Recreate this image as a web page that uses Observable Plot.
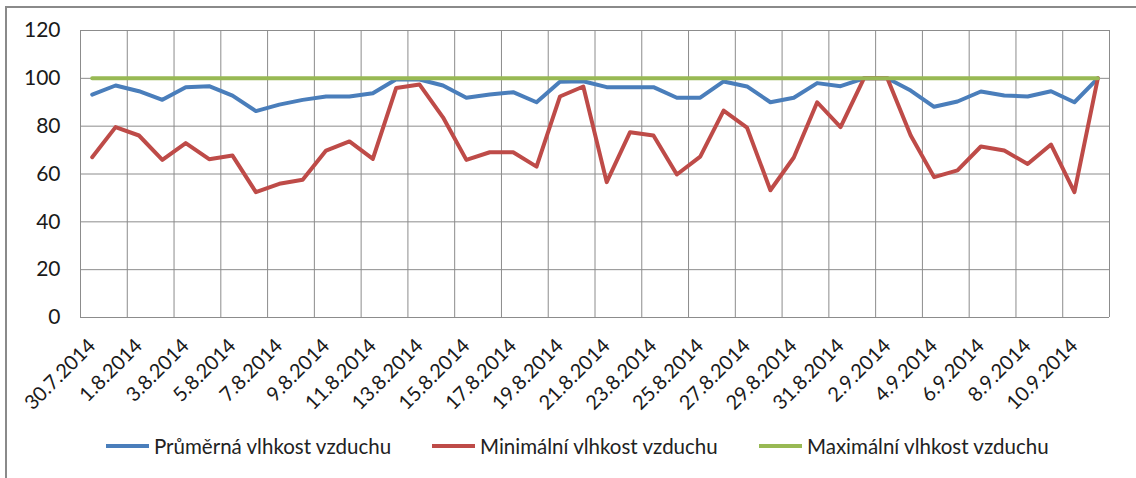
<!DOCTYPE html>
<html><head><meta charset="utf-8">
<script src="https://cdn.jsdelivr.net/npm/d3@7"></script>
<script src="https://cdn.jsdelivr.net/npm/@observablehq/plot@0.6"></script>
<style>
body{margin:0;background:#fff;font-family:Lato,"Open Sans",sans-serif;}
#wrap{position:relative;width:1136px;height:478px;overflow:hidden;background:#fff;}
#frame{position:absolute;left:5px;top:6px;width:1300px;height:700px;border:2px solid #8a8a8a;box-sizing:border-box;}
#chart{position:absolute;left:0;top:0;}
#legend{position:absolute;top:433px;left:0;width:1136px;height:26px;}
.item{position:absolute;top:0;height:26px;display:flex;align-items:center;font-size:20.5px;color:#222;white-space:nowrap;}
.sw{display:inline-block;width:43px;height:4px;margin-right:5px;}
</style></head><body>
<div id="wrap"><div id="frame"></div><div id="chart"></div><div id="legend"></div></div>
<script>
const dates = ["30.7.2014","31.7.2014","1.8.2014","2.8.2014","3.8.2014","4.8.2014","5.8.2014","6.8.2014","7.8.2014","8.8.2014",
"9.8.2014","10.8.2014","11.8.2014","12.8.2014","13.8.2014","14.8.2014","15.8.2014","16.8.2014","17.8.2014","18.8.2014",
"19.8.2014","20.8.2014","21.8.2014","22.8.2014","23.8.2014","24.8.2014","25.8.2014","26.8.2014","27.8.2014","28.8.2014",
"29.8.2014","30.8.2014","31.8.2014","1.9.2014","2.9.2014","3.9.2014","4.9.2014","5.9.2014","6.9.2014","7.9.2014",
"8.9.2014","9.9.2014","10.9.2014","11.9.2014"];
const prumerna = [93.2,97.0,94.6,91.0,96.3,96.7,92.8,86.3,89.0,91.0,
92.4,92.4,93.8,99.6,99.5,97.0,91.9,93.2,94.2,90.0,
98.6,98.8,96.3,96.3,96.3,91.9,91.9,98.7,96.6,90.0,
91.9,98.0,96.7,100,100,94.9,88.1,90.3,94.5,92.8,
92.4,94.6,90.0,100];
const minimalni = [67.0,79.6,76.1,65.9,72.9,66.2,67.7,52.4,55.9,57.6,
69.8,73.6,66.3,96.0,97.4,83.7,65.9,69.1,69.1,63.1,
92.4,96.6,56.6,77.5,76.1,59.8,67.3,86.5,79.4,53.2,
66.9,90.0,79.6,100,100,76.1,58.7,61.5,71.5,69.8,
64.2,72.3,52.4,100];
const maximalni = [100,100,100,100,100,100,100,100,100,100,
100,100,100,100,100,100,100,100,100,100,
100,100,100,100,100,100,100,100,100,100,
100,100,100,100,100,100,100,100,100,100,
100,100,100,100];
const tickLabels = ["30.7.2014","1.8.2014","3.8.2014","5.8.2014","7.8.2014","9.8.2014","11.8.2014","13.8.2014","15.8.2014","17.8.2014","19.8.2014",
"21.8.2014","23.8.2014","25.8.2014","27.8.2014","29.8.2014","31.8.2014","2.9.2014","4.9.2014","6.9.2014","8.9.2014","10.9.2014"];
const yTicks = [0,20,40,60,80,100,120];
const seriesNames = ["Průměrná vlhkost vzduchu","Minimální vlhkost vzduchu","Maximální vlhkost vzduchu"];
const seriesColors = ["#4a7ebb","#be4b48","#98b954"];

const parse = s => { const [d,m,y] = s.split(".").map(Number); return new Date(Date.UTC(y, m-1, d)); };
const HALF = 12*3600*1000;
const seriesValues = [prumerna, minimalni, maximalni];
const rows = [];
seriesValues.forEach((vals, si) => vals.forEach((v, i) => rows.push({date: parse(dates[i]), value: v, series: seriesNames[si]})));
const tickDates = tickLabels.map(parse);
const gridX = tickDates.map(d => new Date(+d - HALF)).concat([new Date(+parse(dates[dates.length-1]) + HALF)]);
const domainX = [new Date(+parse(dates[0]) - HALF), new Date(+parse(dates[dates.length-1]) + HALF)];

const chart = Plot.plot({
  width: 1136, height: 420,
  marginLeft: 80, marginRight: 27, marginTop: 30, marginBottom: 103,
  style: {fontFamily: "Lato, 'Open Sans', sans-serif", color: "#1a1a1a", background: "transparent"},
  x: {type: "utc", domain: domainX},
  y: {domain: [0, 120]},
  marks: [
    Plot.ruleY(yTicks, {stroke: "#8c8c8c", strokeWidth: 1}),
    Plot.ruleX(gridX, {stroke: "#8c8c8c", strokeWidth: 1}),
    Plot.axisY(yTicks, {tickSize: 0, tickPadding: 20, fontSize: 21, label: null}),
    Plot.axisX(tickDates, {tickSize: 0, tickPadding: 25, tickRotate: -45, fontSize: 20, label: null,
      tickFormat: d => tickLabels[tickDates.findIndex(t => +t === +d)]}),
    ...seriesNames.map((name, si) => Plot.line(rows.filter(r => r.series === name),
      {x: "date", y: "value", stroke: seriesColors[si], strokeWidth: 4, strokeLinejoin: "round"}))
  ]
});
document.getElementById("chart").appendChild(chart);

const legendLeft = [106, 432, 759];
const lg = document.getElementById("legend");
seriesNames.forEach((name, i) => {
  const it = document.createElement("div");
  it.className = "item";
  it.style.left = legendLeft[i] + "px";
  const sw = document.createElement("span");
  sw.className = "sw"; sw.style.background = seriesColors[i];
  it.appendChild(sw);
  it.appendChild(document.createTextNode(name));
  lg.appendChild(it);
});
</script>
</body></html>
